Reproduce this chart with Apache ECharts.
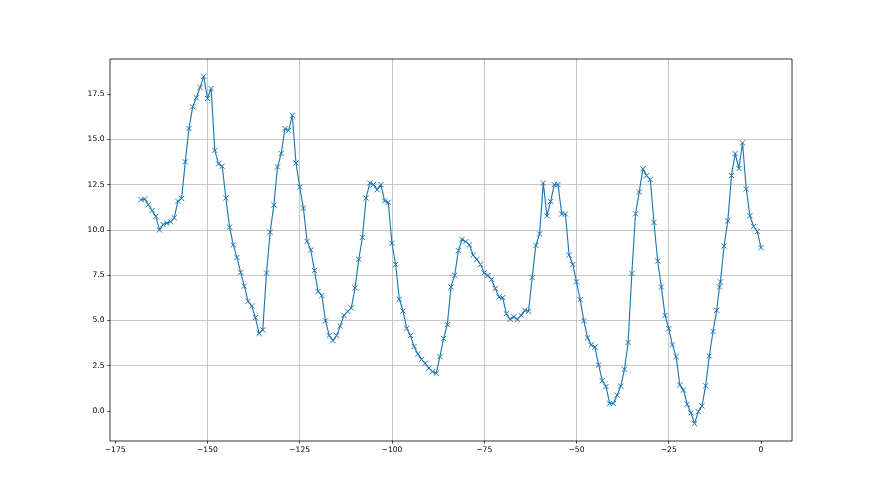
<!DOCTYPE html>
<html><head><meta charset="utf-8">
<script src="https://cdn.jsdelivr.net/npm/echarts@6/dist/echarts.min.js"></script>
<style>html,body{margin:0;padding:0;background:#fff}#c{width:880px;height:495px}</style>
</head><body><div id="c"></div>
<script>
const xValues = [
-168,-167,-166,-165,-164,-163,-162,-161,-160,-159,
-158,-157,-156,-155,-154,-153,-152,-151,-150,-149,
-148,-147,-146,-145,-144,-143,-142,-141,-140,-139,
-138,-137,-136,-135,-134,-133,-132,-131,-130,-129,
-128,-127,-126,-125,-124,-123,-122,-121,-120,-119,
-118,-117,-116,-115,-114,-113,-112,-111,-110,-109,
-108,-107,-106,-105,-104,-103,-102,-101,-100,-99,
-98,-97,-96,-95,-94,-93,-92,-91,-90,-89,
-88,-87,-86,-85,-84,-83,-82,-81,-80,-79,
-78,-77,-76,-75,-74,-73,-72,-71,-70,-69,
-68,-67,-66,-65,-64,-63,-62,-61,-60,-59,
-58,-57,-56,-55,-54,-53,-52,-51,-50,-49,
-48,-47,-46,-45,-44,-43,-42,-41,-40,-39,
-38,-37,-36,-35,-34,-33,-32,-31,-30,-29,
-28,-27,-26,-25,-24,-23,-22,-21,-20,-19,
-18,-17,-16,-15,-14,-13,-12,-11.25,-11,-10,
-9,-8,-7,-6,-5,-4,-3,-2,-1,0
];
const yValues = [
11.67,11.7,11.39,11.07,10.75,10.0,10.3,10.38,10.45,10.67,
11.58,11.74,13.76,15.6,16.8,17.3,17.87,18.48,17.26,17.81,
14.39,13.65,13.52,11.76,10.15,9.17,8.48,7.65,6.89,6.06,
5.8,5.15,4.28,4.48,7.62,9.87,11.37,13.48,14.22,15.59,
15.5,16.33,13.7,12.37,11.2,9.37,8.89,7.76,6.6,6.37,
4.98,4.17,3.89,4.17,4.69,5.28,5.5,5.69,6.8,8.37,
9.59,11.76,12.59,12.5,12.22,12.5,11.6,11.52,9.26,8.09,
6.17,5.52,4.56,4.17,3.56,3.15,2.85,2.63,2.37,2.17,
2.08,3.0,4.0,4.77,6.85,7.5,8.85,9.48,9.35,9.17,
8.61,8.37,8.09,7.63,7.48,7.26,6.76,6.3,6.26,5.37,
5.06,5.19,5.06,5.28,5.56,5.5,7.37,9.15,9.78,12.59,
10.78,11.57,12.5,12.5,10.88,10.88,8.61,8.09,7.13,6.15,
4.98,4.04,3.65,3.52,2.54,1.67,1.35,0.41,0.41,0.87,
1.37,2.3,3.78,7.59,10.89,12.09,13.37,13.0,12.78,10.41,
8.28,6.85,5.28,4.54,3.65,3.0,1.43,1.15,0.37,-0.11,
-0.7,-0.04,0.28,1.39,3.04,4.39,5.56,6.85,7.13,9.11,
10.5,13.0,14.22,13.39,14.81,12.26,10.78,10.19,9.91,9.02
];
const xTicks = [-175,-150,-125,-100,-75,-50,-25,0];
const yTicks = [0,2.5,5,7.5,10,12.5,15,17.5];
const xRange = [-176.4, 8.4];
const yRange = [-1.66, 19.44];

const minus = s => s.replace('-', '\u2212');
const font = {fontFamily: 'DejaVu Sans', fontSize: 7.6, color: '#000'};
const chart = echarts.init(document.getElementById('c'), null, {renderer: 'canvas'});
chart.setOption({
  animation: false,
  backgroundColor: '#fff',
  grid: {left: 110, right: 88, top: 59, bottom: 54, show: true, borderColor: '#000', borderWidth: 0.8, backgroundColor: 'transparent', z: 3},
  xAxis: {
    type: 'value', min: xRange[0], max: xRange[1], interval: 25,
    axisLine: {show: false, onZero: false},
    axisTick: {show: true, length: 2.7, lineStyle: {color: '#000', width: 0.7}, customValues: xTicks},
    axisLabel: Object.assign({margin: 5.5, customValues: xTicks, formatter: v => minus(String(v))}, font),
    splitLine: {show: true, showMinLine: false, showMaxLine: false, lineStyle: {color: '#b0b0b0', width: 0.7}}
  },
  yAxis: {
    type: 'value', min: yRange[0], max: yRange[1], interval: 2.5,
    axisLine: {show: false, onZero: false},
    axisTick: {show: true, length: 2.7, lineStyle: {color: '#000', width: 0.7}, customValues: yTicks},
    axisLabel: Object.assign({margin: 5.5, customValues: yTicks, formatter: v => minus(v.toFixed(1))}, font),
    splitLine: {show: true, showMinLine: false, showMaxLine: false, lineStyle: {color: '#b0b0b0', width: 0.7}}
  },
  series: [{
    type: 'line',
    data: xValues.map((x, i) => [x, yValues[i]]),
    showSymbol: true, showAllSymbol: true,
    symbol: 'path://M0,0L10,10M0,10L10,0',
    symbolSize: 5.2,
    lineStyle: {color: '#1f77b4', width: 1.15},
    itemStyle: {color: '#1f77b4', borderColor: '#1f77b4', borderWidth: 1},
    z: 2
  }]
});
</script></body></html>
